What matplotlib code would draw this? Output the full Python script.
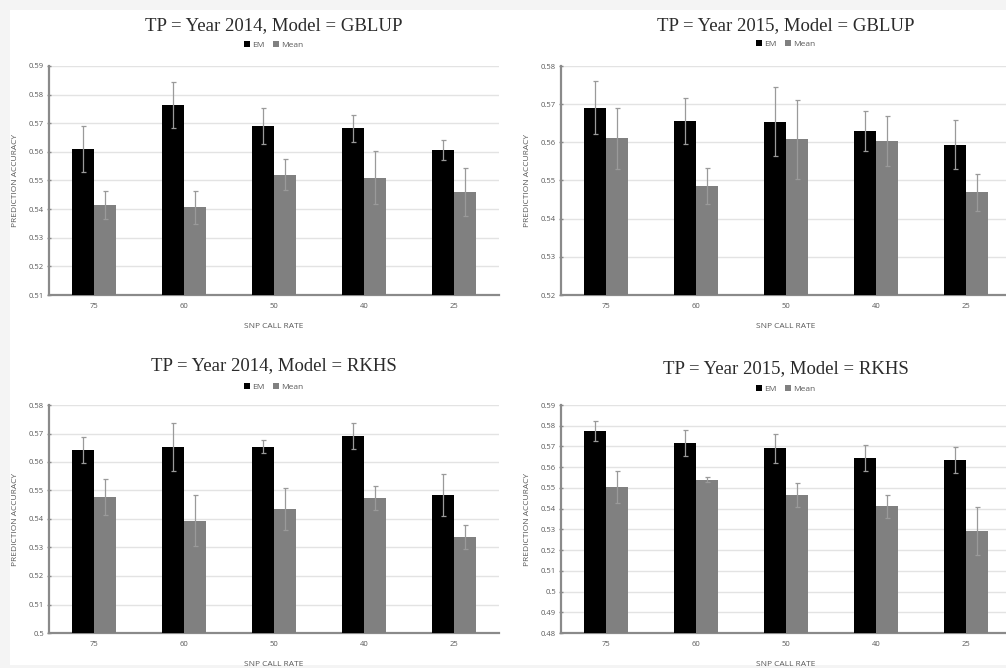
import matplotlib
matplotlib.use('Agg')

import matplotlib.pyplot as plt
import numpy as np
from matplotlib.patches import Rectangle

plt.rcParams['font.family'] = ['Open Sans', 'DejaVu Sans']

# SNP call rate categories (x axis)
call_rates = ['75', '60', '50', '40', '25']

# 2014, GBLUP
em_2014_gblup = [0.5610, 0.5763, 0.5690, 0.5683, 0.5607]
em_2014_gblup_err = [0.0081, 0.0081, 0.0062, 0.0047, 0.0035]
mean_2014_gblup = [0.5413, 0.5406, 0.5520, 0.5510, 0.5460]
mean_2014_gblup_err = [0.0049, 0.0059, 0.0054, 0.0093, 0.0084]

# 2015, GBLUP
em_2015_gblup = [0.5691, 0.5656, 0.5654, 0.5629, 0.5594]
em_2015_gblup_err = [0.0070, 0.0061, 0.0090, 0.0052, 0.0065]
mean_2015_gblup = [0.5611, 0.5486, 0.5608, 0.5603, 0.5469]
mean_2015_gblup_err = [0.0080, 0.0047, 0.0103, 0.0066, 0.0048]

# 2014, RKHS
em_2014_rkhs = [0.5642, 0.5653, 0.5654, 0.5690, 0.5484]
em_2014_rkhs_err = [0.0046, 0.0083, 0.0022, 0.0046, 0.0073]
mean_2014_rkhs = [0.5477, 0.5394, 0.5435, 0.5474, 0.5336]
mean_2014_rkhs_err = [0.0062, 0.0089, 0.0073, 0.0041, 0.0042]

# 2015, RKHS
em_2015_rkhs = [0.5773, 0.5717, 0.5691, 0.5644, 0.5633]
em_2015_rkhs_err = [0.0048, 0.0062, 0.0069, 0.0063, 0.0063]
mean_2015_rkhs = [0.5504, 0.5540, 0.5466, 0.5411, 0.5294]
mean_2015_rkhs_err = [0.0078, 0.0011, 0.0058, 0.0055, 0.0116]

W, H = 1006, 668
fig = plt.figure(figsize=(W / 100, H / 100), dpi=100, facecolor='#f4f4f4')
# white sheet behind the four charts
fig.patches.append(Rectangle((10 / W, 3 / H), 1, (H - 13) / H, transform=fig.transFigure,
                             facecolor='white', edgecolor='none', zorder=-10))

panels = [
    # title, em, em_err, mean, mean_err, ylim,
    # (left, top, bottom, title baseline, legend centre) in px from top-left
    ('TP = Year 2014, Model = GBLUP', em_2014_gblup, em_2014_gblup_err,
     mean_2014_gblup, mean_2014_gblup_err, (0.51, 0.59), (49, 66, 295, 30, 45)),
    ('TP = Year 2015, Model = GBLUP', em_2015_gblup, em_2015_gblup_err,
     mean_2015_gblup, mean_2015_gblup_err, (0.52, 0.58), (561, 66, 295, 30, 44)),
    ('TP = Year 2014, Model = RKHS', em_2014_rkhs, em_2014_rkhs_err,
     mean_2014_rkhs, mean_2014_rkhs_err, (0.50, 0.58), (49, 405, 633, 370, 387)),
    ('TP = Year 2015, Model = RKHS', em_2015_rkhs, em_2015_rkhs_err,
     mean_2015_rkhs, mean_2015_rkhs_err, (0.48, 0.59), (561, 405, 633, 373, 389)),
]

x = np.arange(len(call_rates))
bw = 0.245
axis_grey = '#8a8a8a'
text_grey = '#595959'

for title, em, em_err, mean, mean_err, ylim, (left, top, bottom, t_y, l_y) in panels:
    ax = fig.add_axes([left / W, (H - bottom) / H, 450 / W, (bottom - top) / H])
    ax.set_facecolor('none')
    ax.set_xlim(-0.5, len(call_rates) - 0.5)
    ax.set_ylim(*ylim)

    err_kw = dict(ecolor='#9a9a9a', elinewidth=0.9, capsize=1.8, capthick=0.9)
    ax.bar(x - bw / 2, em, bw, yerr=em_err, color='black', label='EM',
           error_kw=err_kw, zorder=3)
    ax.bar(x + bw / 2, mean, bw, yerr=mean_err, color='#808080', label='Mean',
           error_kw=err_kw, zorder=3)

    ticks = np.round(np.arange(ylim[0], ylim[1] + 1e-9, 0.01), 2)
    ax.set_yticks(ticks)
    ax.set_yticklabels([f'{t:g}' for t in ticks])
    ax.yaxis.grid(True, color='#e3e3e3', linewidth=1.0, zorder=0)
    ax.set_axisbelow(True)

    ax.set_xticks(x)
    ax.set_xticklabels(call_rates)

    for side in ['top', 'right']:
        ax.spines[side].set_visible(False)
    ax.spines['left'].set_color(axis_grey)
    ax.spines['left'].set_linewidth(1.6)
    ax.spines['bottom'].set_color(axis_grey)
    ax.spines['bottom'].set_linewidth(1.6)

    ax.tick_params(axis='y', direction='inout', length=3, width=1, color=axis_grey,
                   labelsize=5.5, labelcolor=text_grey, pad=2)
    ax.tick_params(axis='x', length=0, labelsize=5.5, labelcolor=text_grey, pad=6)

    ax.set_ylabel('PREDICTION ACCURACY', fontsize=6, color=text_grey, labelpad=7)
    ax.set_xlabel('SNP CALL RATE', fontsize=6, color=text_grey, labelpad=9)

    h = bottom - top
    ax.text(0.5, 1 + (top - t_y) / h, title, transform=ax.transAxes,
            ha='center', va='baseline', fontsize=13.5, color='#2b2b2b',
            family=['Liberation Serif', 'DejaVu Serif'])
    ax.legend(loc='center', bbox_to_anchor=(0.5, 1 + (top - l_y) / h),
              ncol=2, frameon=False, fontsize=6, handlelength=0.7, handleheight=0.7,
              handletextpad=0.3, columnspacing=1.0, labelcolor=text_grey)

fig.savefig('out.png', dpi=100, facecolor=fig.get_facecolor())
